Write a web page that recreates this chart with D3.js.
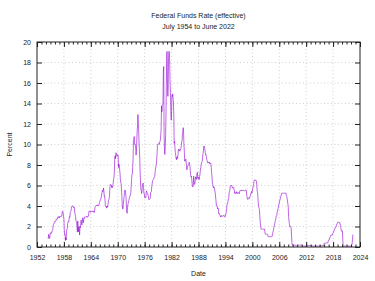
<!DOCTYPE html>
<meta charset="utf-8">
<style>
body { margin: 0; background: #fff; }
text { font-family: "Liberation Sans", Arial, sans-serif; fill: #222; }
.tick line { stroke: #222; stroke-width: 1; }
.grid line { stroke: #c4c4c4; stroke-width: 0.8; stroke-dasharray: 1,2.5; }
</style>
<body>
<script src="https://d3js.org/d3.v7.min.js"></script>
<script>

var titleLines = ["Federal Funds Rate (effective)", "July 1954 to June 2022"];
var xLabel = "Date", yLabel = "Percent";
var xTicks = [1952, 1958, 1964, 1970, 1976, 1982, 1988, 1994, 2000, 2006, 2012, 2018, 2024];
var yTicks = [0, 2, 4, 6, 8, 10, 12, 14, 16, 18, 20];

// monthly effective rate, starting July 1954
var startYear = 1954, startMonth = 7;
var rates = [
  0.80, 1.22, 1.07, 0.85, 0.83, 1.28,
  1.39, 1.29, 1.35, 1.43, 1.43, 1.64, 1.68, 1.96, 2.18, 2.24, 2.35, 2.48,
  2.45, 2.50, 2.50, 2.62, 2.75, 2.71, 2.75, 2.73, 2.95, 2.96, 2.88, 2.94,
  2.84, 3.00, 2.96, 3.00, 3.00, 3.00, 2.99, 3.24, 3.47, 3.50, 3.28, 2.98,
  2.72, 1.67, 1.20, 1.26, 0.63, 0.93, 0.68, 1.53, 1.76, 1.80, 2.27, 2.42,
  2.48, 2.43, 2.80, 2.96, 2.90, 3.39, 3.47, 3.50, 3.76, 3.98, 4.00, 3.99,
  3.99, 3.97, 3.84, 3.92, 3.85, 3.32, 3.23, 2.98, 2.60, 2.47, 2.44, 1.98,
  1.45, 2.54, 2.02, 1.49, 1.98, 1.73, 1.17, 2.00, 1.88, 2.26, 2.62, 2.33,
  2.15, 2.37, 2.85, 2.78, 2.36, 2.68, 2.71, 2.93, 2.90, 2.90, 2.94, 2.93,
  2.92, 3.00, 2.98, 2.90, 3.00, 2.99, 3.02, 3.49, 3.48, 3.50, 3.48, 3.38,
  3.48, 3.48, 3.43, 3.47, 3.50, 3.50, 3.42, 3.50, 3.45, 3.36, 3.52, 3.85,
  3.90, 3.98, 4.04, 4.09, 4.10, 4.04, 4.09, 4.12, 4.01, 4.08, 4.10, 4.32,
  4.42, 4.60, 4.65, 4.67, 4.90, 5.17, 5.30, 5.53, 5.40, 5.53, 5.76, 5.40,
  4.94, 5.00, 4.53, 4.05, 3.94, 3.98, 3.79, 3.90, 3.99, 3.88, 4.13, 4.51,
  4.60, 4.71, 5.05, 5.76, 6.11, 6.07, 6.02, 6.03, 5.78, 5.91, 5.82, 6.02,
  6.30, 6.61, 6.79, 7.41, 8.67, 8.90, 8.61, 9.19, 9.15, 9.00, 8.85, 8.97,
  8.98, 8.98, 7.76, 8.10, 7.95, 7.61, 7.21, 6.61, 6.29, 6.20, 5.60, 4.90,
  4.14, 3.72, 3.71, 4.15, 4.63, 4.91, 5.31, 5.56, 5.55, 5.20, 4.91, 4.14,
  3.50, 3.29, 3.83, 4.17, 4.27, 4.46, 4.55, 4.80, 4.87, 5.04, 5.06, 5.33,
  5.94, 6.58, 7.09, 7.12, 7.84, 8.49, 10.40, 10.50, 10.78, 10.01, 10.03, 9.95,
  9.65, 8.97, 9.35, 10.51, 11.31, 11.93, 12.92, 12.01, 11.34, 10.06, 9.45, 8.53,
  7.13, 6.24, 5.54, 5.49, 5.22, 5.55, 6.10, 6.14, 6.24, 5.82, 5.22, 5.20,
  4.87, 4.77, 4.84, 4.82, 5.29, 5.48, 5.31, 5.29, 5.25, 5.02, 4.95, 4.65,
  4.61, 4.68, 4.69, 4.73, 5.35, 5.39, 5.42, 5.90, 6.14, 6.47, 6.51, 6.56,
  6.70, 6.78, 6.79, 6.89, 7.36, 7.60, 7.81, 8.04, 8.45, 8.96, 9.76, 10.03,
  10.07, 10.06, 10.09, 10.01, 10.24, 10.29, 10.47, 10.94, 11.43, 13.77, 13.18, 13.78,
  13.82, 14.13, 17.19, 17.61, 10.98, 9.47, 9.03, 9.61, 10.87, 12.81, 15.85, 18.90,
  19.08, 15.93, 14.70, 15.72, 18.52, 19.10, 19.04, 17.82, 15.87, 15.08, 13.31, 12.37,
  13.22, 14.78, 14.68, 14.94, 14.45, 14.15, 12.59, 10.12, 10.31, 9.71, 9.20, 8.95,
  8.68, 8.51, 8.77, 8.80, 8.63, 8.98, 9.37, 9.56, 9.45, 9.48, 9.34, 9.47,
  9.56, 9.59, 9.91, 10.29, 10.32, 11.06, 11.23, 11.64, 11.30, 9.99, 9.43, 8.38,
  8.35, 8.50, 8.58, 8.27, 7.97, 7.53, 7.88, 7.90, 7.92, 7.99, 8.05, 8.27,
  8.14, 7.86, 7.48, 6.99, 6.85, 6.92, 6.56, 6.17, 5.89, 5.85, 6.04, 6.91,
  6.43, 6.10, 6.13, 6.37, 6.85, 6.73, 6.58, 6.73, 7.22, 7.29, 6.69, 6.77,
  6.83, 6.58, 6.58, 6.87, 7.09, 7.51, 7.75, 8.01, 8.19, 8.30, 8.35, 8.76,
  9.12, 9.36, 9.85, 9.84, 9.81, 9.53, 9.24, 8.99, 9.02, 8.84, 8.55, 8.45,
  8.23, 8.24, 8.28, 8.26, 8.18, 8.29, 8.15, 8.13, 8.20, 8.11, 7.81, 7.31,
  6.91, 6.25, 6.12, 5.91, 5.78, 5.90, 5.82, 5.66, 5.45, 5.21, 4.81, 4.43,
  4.03, 4.06, 3.98, 3.73, 3.82, 3.76, 3.25, 3.30, 3.22, 3.10, 3.09, 2.92,
  3.02, 3.03, 3.07, 2.96, 3.00, 3.04, 3.06, 3.03, 3.09, 2.99, 3.02, 2.96,
  3.05, 3.25, 3.34, 3.56, 4.01, 4.25, 4.26, 4.47, 4.73, 4.76, 5.29, 5.45,
  5.53, 5.92, 5.98, 6.05, 6.01, 6.00, 5.85, 5.74, 5.80, 5.76, 5.80, 5.60,
  5.56, 5.22, 5.31, 5.22, 5.24, 5.27, 5.40, 5.22, 5.30, 5.24, 5.31, 5.29,
  5.25, 5.19, 5.39, 5.51, 5.50, 5.56, 5.52, 5.54, 5.54, 5.50, 5.52, 5.50,
  5.56, 5.51, 5.49, 5.45, 5.49, 5.56, 5.54, 5.55, 5.51, 5.07, 4.83, 4.68,
  4.63, 4.76, 4.81, 4.74, 4.74, 4.76, 4.99, 5.07, 5.22, 5.20, 5.42, 5.30,
  5.45, 5.73, 5.85, 6.02, 6.27, 6.53, 6.54, 6.50, 6.52, 6.51, 6.51, 6.40,
  5.98, 5.49, 5.31, 4.80, 4.21, 3.97, 3.77, 3.65, 3.07, 2.49, 2.09, 1.82,
  1.73, 1.74, 1.73, 1.75, 1.75, 1.75, 1.73, 1.74, 1.75, 1.75, 1.34, 1.24,
  1.24, 1.26, 1.25, 1.26, 1.26, 1.22, 1.01, 1.03, 1.01, 1.01, 1.00, 0.98,
  1.00, 1.01, 1.00, 1.00, 1.00, 1.03, 1.26, 1.43, 1.61, 1.76, 1.93, 2.16,
  2.28, 2.50, 2.63, 2.79, 3.00, 3.04, 3.26, 3.50, 3.62, 3.78, 4.00, 4.16,
  4.29, 4.49, 4.59, 4.79, 4.94, 4.99, 5.24, 5.25, 5.25, 5.25, 5.25, 5.24,
  5.25, 5.26, 5.26, 5.25, 5.25, 5.25, 5.26, 5.02, 4.94, 4.76, 4.49, 4.24,
  3.94, 2.98, 2.61, 2.28, 1.98, 2.00, 2.01, 2.00, 1.81, 0.97, 0.39, 0.16,
  0.15, 0.22, 0.18, 0.15, 0.18, 0.21, 0.16, 0.16, 0.15, 0.12, 0.12, 0.12,
  0.11, 0.13, 0.16, 0.20, 0.20, 0.18, 0.18, 0.19, 0.19, 0.19, 0.19, 0.18,
  0.17, 0.16, 0.14, 0.10, 0.09, 0.09, 0.07, 0.10, 0.08, 0.07, 0.08, 0.07,
  0.08, 0.10, 0.13, 0.14, 0.16, 0.16, 0.16, 0.13, 0.14, 0.16, 0.16, 0.16,
  0.14, 0.15, 0.14, 0.15, 0.11, 0.09, 0.09, 0.08, 0.08, 0.09, 0.08, 0.09,
  0.07, 0.07, 0.08, 0.09, 0.09, 0.10, 0.09, 0.09, 0.09, 0.09, 0.09, 0.12,
  0.11, 0.11, 0.11, 0.12, 0.12, 0.13, 0.13, 0.14, 0.14, 0.12, 0.12, 0.24,
  0.34, 0.38, 0.36, 0.37, 0.37, 0.38, 0.39, 0.40, 0.40, 0.40, 0.41, 0.54,
  0.65, 0.66, 0.79, 0.90, 0.91, 1.04, 1.15, 1.16, 1.15, 1.15, 1.16, 1.30,
  1.41, 1.42, 1.51, 1.69, 1.70, 1.82, 1.91, 1.91, 1.95, 2.19, 2.20, 2.27,
  2.40, 2.40, 2.41, 2.42, 2.39, 2.38, 2.40, 2.13, 2.04, 1.83, 1.55, 1.55,
  1.55, 1.58, 0.65, 0.05, 0.05, 0.08, 0.09, 0.10, 0.09, 0.09, 0.09, 0.09,
  0.09, 0.08, 0.07, 0.07, 0.06, 0.08, 0.10, 0.09, 0.08, 0.08, 0.08, 0.08,
  0.08, 0.08, 0.20, 0.33, 0.77, 1.21
];

var W = 375, H = 281;
var margin = {top: 42, right: 15, bottom: 34, left: 37},
    width = W - margin.left - margin.right,
    height = H - margin.top - margin.bottom;

var data = rates.map(function(v, i) {
    return {t: startYear + (startMonth - 1 + i) / 12, v: v};
});

var x = d3.scaleLinear().domain([1952, 2024]).range([0, width]);
var y = d3.scaleLinear().domain([0, 20]).range([height, 0]);
var minorYears = d3.range(1952, 2025);

var svg = d3.select("body").append("svg")
    .attr("width", W)
    .attr("height", H);

svg.selectAll(".title")
    .data(titleLines)
  .enter().append("text")
    .attr("x", margin.left + width / 2)
    .attr("y", function(d, i) { return 18 + i * 11; })
    .attr("text-anchor", "middle")
    .style("font-size", "7px")
    .text(function(d) { return d; });

var g = svg.append("g")
    .attr("transform", "translate(" + margin.left + "," + margin.top + ")");

// dotted grid
g.append("g").attr("class", "grid")
  .selectAll("line").data(xTicks.slice(1, -1))
  .enter().append("line")
    .attr("x1", function(d) { return x(d); }).attr("x2", function(d) { return x(d); })
    .attr("y1", 0).attr("y2", height);
g.append("g").attr("class", "grid")
  .selectAll("line").data(yTicks.slice(1, -1))
  .enter().append("line")
    .attr("y1", function(d) { return y(d); }).attr("y2", function(d) { return y(d); })
    .attr("x1", 0).attr("x2", width);

g.append("path")
    .datum(data)
    .attr("fill", "none")
    .attr("stroke", "#9400d3")
    .attr("stroke-opacity", 0.75)
    .attr("stroke-width", 0.8)
    .attr("stroke-linejoin", "round")
    .attr("d", d3.line().x(function(d) { return x(d.t); }).y(function(d) { return y(d.v); }));

function noDomain(sel) { sel.select(".domain").remove(); sel.selectAll("text").style("font-size", "7px"); }

g.append("g")
    .attr("transform", "translate(0," + height + ")")
    .call(d3.axisBottom(x).tickValues(minorYears).tickSize(-2.5).tickSizeOuter(0).tickFormat(""))
    .call(noDomain);
g.append("g")
    .attr("transform", "translate(0," + height + ")")
    .call(d3.axisBottom(x).tickValues(xTicks).tickSize(-5).tickSizeOuter(0).tickPadding(8).tickFormat(d3.format("d")))
    .call(noDomain);
g.append("g")
    .call(d3.axisTop(x).tickValues(minorYears).tickSize(-2.5).tickSizeOuter(0).tickFormat(""))
    .call(noDomain);
g.append("g")
    .call(d3.axisTop(x).tickValues(xTicks).tickSize(-5).tickSizeOuter(0).tickFormat(""))
    .call(noDomain);
g.append("g")
    .call(d3.axisLeft(y).tickValues(yTicks).tickSize(-5).tickSizeOuter(0).tickPadding(6))
    .call(noDomain);
g.append("g")
    .attr("transform", "translate(" + width + ",0)")
    .call(d3.axisRight(y).tickValues(yTicks).tickSize(-5).tickSizeOuter(0).tickFormat(""))
    .call(noDomain);

g.append("rect")
    .attr("width", width)
    .attr("height", height)
    .attr("fill", "none")
    .attr("stroke", "#222")
    .attr("stroke-width", 1);

svg.append("text")
    .attr("x", margin.left + width / 2)
    .attr("y", 276)
    .attr("text-anchor", "middle")
    .style("font-size", "7px")
    .text(xLabel);

svg.append("text")
    .attr("transform", "translate(12," + (margin.top + height / 2) + ") rotate(-90)")
    .attr("text-anchor", "middle")
    .style("font-size", "7px")
    .text(yLabel);

</script>
